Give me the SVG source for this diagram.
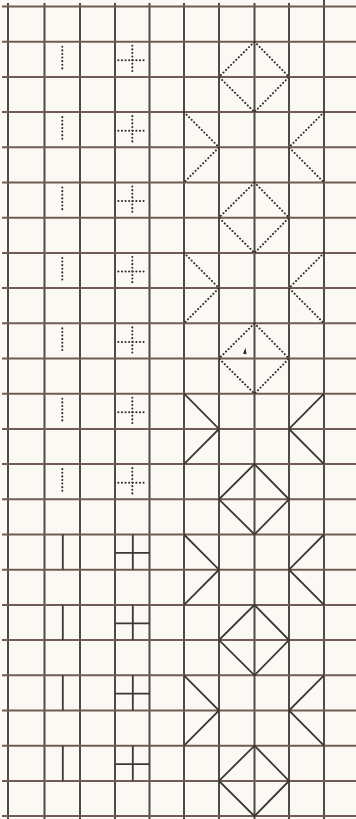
<svg xmlns="http://www.w3.org/2000/svg" width="356" height="819" viewBox="0 0 356 819">
<style>
.bg{fill:#fbf9f4}
.v{stroke:#4e4b49;stroke-width:2;fill:none}
.h{stroke:#6f5d53;stroke-width:2;fill:none}
.dot{stroke:#2f2d2b;stroke-width:2;stroke-linecap:round;stroke-dasharray:0.1 3.5;fill:none}
.sol{stroke:#3a3836;stroke-width:1.8;fill:none;stroke-linejoin:miter}
</style>
<rect class="bg" x="0" y="0" width="356" height="819"/>
<g id="grid">
<g class="v">
<line x1="8" y1="3" x2="8" y2="819"/>
<line x1="44.5" y1="3" x2="44.5" y2="819"/>
<line x1="80" y1="3" x2="80" y2="819"/>
<line x1="115" y1="3" x2="115" y2="819"/>
<line x1="149.5" y1="3" x2="149.5" y2="819"/>
<line x1="184" y1="3" x2="184" y2="819"/>
<line x1="219" y1="3" x2="219" y2="819"/>
<line x1="254.5" y1="3" x2="254.5" y2="819"/>
<line x1="289" y1="3" x2="289" y2="819"/>
<line x1="324" y1="0" x2="324" y2="819"/>
</g>
<g class="h">
<line x1="2" y1="6.5" x2="356" y2="6.5"/>
<line x1="2" y1="41.7" x2="356" y2="41.7"/>
<line x1="2" y1="76.9" x2="356" y2="76.9"/>
<line x1="2" y1="112.1" x2="356" y2="112.1"/>
<line x1="2" y1="147.3" x2="356" y2="147.3"/>
<line x1="2" y1="182.5" x2="356" y2="182.5"/>
<line x1="2" y1="217.7" x2="356" y2="217.7"/>
<line x1="2" y1="252.9" x2="356" y2="252.9"/>
<line x1="2" y1="288.1" x2="356" y2="288.1"/>
<line x1="2" y1="323.3" x2="356" y2="323.3"/>
<line x1="2" y1="358.5" x2="356" y2="358.5"/>
<line x1="2" y1="393.7" x2="356" y2="393.7"/>
<line x1="2" y1="428.9" x2="356" y2="428.9"/>
<line x1="2" y1="464.1" x2="356" y2="464.1"/>
<line x1="2" y1="499.3" x2="356" y2="499.3"/>
<line x1="2" y1="534.5" x2="356" y2="534.5"/>
<line x1="2" y1="569.7" x2="356" y2="569.7"/>
<line x1="2" y1="604.9" x2="356" y2="604.9"/>
<line x1="2" y1="640.1" x2="356" y2="640.1"/>
<line x1="2" y1="675.3" x2="356" y2="675.3"/>
<line x1="2" y1="710.5" x2="356" y2="710.5"/>
<line x1="2" y1="745.7" x2="356" y2="745.7"/>
<line x1="2" y1="780.9" x2="356" y2="780.9"/>
<line x1="2" y1="816.1" x2="356" y2="816.1"/>
</g>
</g>
<g id="bars">
<g id="bar1" transform="translate(62.3,41.7)"><line class="dot" x1="0" y1="5" x2="0" y2="30"/></g>
<g id="bar3" transform="translate(62.3,112.1)"><line class="dot" x1="0" y1="5" x2="0" y2="30"/></g>
<g id="bar5" transform="translate(62.3,182.5)"><line class="dot" x1="0" y1="5" x2="0" y2="30"/></g>
<g id="bar7" transform="translate(62.3,252.9)"><line class="dot" x1="0" y1="5" x2="0" y2="30"/></g>
<g id="bar9" transform="translate(62.3,323.3)"><line class="dot" x1="0" y1="5" x2="0" y2="30"/></g>
<g id="bar11" transform="translate(62.3,393.7)"><line class="dot" x1="0" y1="5" x2="0" y2="30"/></g>
<g id="bar13" transform="translate(62.3,464.1)"><line class="dot" x1="0" y1="5" x2="0" y2="30"/></g>
<g id="bar15" transform="translate(62.8,534.5)"><line class="sol" x1="0" y1="0" x2="0" y2="35.2"/></g>
<g id="bar17" transform="translate(62.8,604.9)"><line class="sol" x1="0" y1="0" x2="0" y2="35.2"/></g>
<g id="bar19" transform="translate(62.8,675.3)"><line class="sol" x1="0" y1="0" x2="0" y2="35.2"/></g>
<g id="bar21" transform="translate(62.8,745.7)"><line class="sol" x1="0" y1="0" x2="0" y2="35.2"/></g>
</g>
<g id="crosses">
<g id="cross1" transform="translate(132.3,41.7)"><line class="dot" x1="0" y1="4" x2="0" y2="31"/><line class="dot" x1="-14" y1="18.6" x2="14" y2="18.6"/></g>
<g id="cross3" transform="translate(132.3,112.1)"><line class="dot" x1="0" y1="4" x2="0" y2="31"/><line class="dot" x1="-14" y1="18.6" x2="14" y2="18.6"/></g>
<g id="cross5" transform="translate(132.3,182.5)"><line class="dot" x1="0" y1="4" x2="0" y2="31"/><line class="dot" x1="-14" y1="18.6" x2="14" y2="18.6"/></g>
<g id="cross7" transform="translate(132.3,252.9)"><line class="dot" x1="0" y1="4" x2="0" y2="31"/><line class="dot" x1="-14" y1="18.6" x2="14" y2="18.6"/></g>
<g id="cross9" transform="translate(132.3,323.3)"><line class="dot" x1="0" y1="4" x2="0" y2="31"/><line class="dot" x1="-14" y1="18.6" x2="14" y2="18.6"/></g>
<g id="cross11" transform="translate(132.3,393.7)"><line class="dot" x1="0" y1="4" x2="0" y2="31"/><line class="dot" x1="-14" y1="18.6" x2="14" y2="18.6"/></g>
<g id="cross13" transform="translate(132.3,464.1)"><line class="dot" x1="0" y1="4" x2="0" y2="31"/><line class="dot" x1="-14" y1="18.6" x2="14" y2="18.6"/></g>
<g id="cross15" transform="translate(132.8,534.5)"><line class="sol" x1="0" y1="0" x2="0" y2="35.2"/><line class="sol" x1="-17.8" y1="18.4" x2="16.7" y2="18.4"/></g>
<g id="cross17" transform="translate(132.8,604.9)"><line class="sol" x1="0" y1="0" x2="0" y2="35.2"/><line class="sol" x1="-17.8" y1="18.4" x2="16.7" y2="18.4"/></g>
<g id="cross19" transform="translate(132.8,675.3)"><line class="sol" x1="0" y1="0" x2="0" y2="35.2"/><line class="sol" x1="-17.8" y1="18.4" x2="16.7" y2="18.4"/></g>
<g id="cross21" transform="translate(132.8,745.7)"><line class="sol" x1="0" y1="0" x2="0" y2="35.2"/><line class="sol" x1="-17.8" y1="18.4" x2="16.7" y2="18.4"/></g>
</g>
<g id="diamonds">
<g id="diamond1" transform="translate(254.5,41.7)"><polygon class="dot" points="0,0 34.5,35.2 0,70.4 -35.5,35.2"/></g>
<g id="diamond5" transform="translate(254.5,182.5)"><polygon class="dot" points="0,0 34.5,35.2 0,70.4 -35.5,35.2"/></g>
<g id="diamond9" transform="translate(254.5,323.3)"><polygon class="dot" points="0,0 34.5,35.2 0,70.4 -35.5,35.2"/><polygon points="-11.5,30.5 -9,24.5 -8,31" fill="#2a2826"/></g>
<g id="diamond13" transform="translate(254.5,464.1)"><polygon class="sol" points="0,0 34.5,35.2 0,70.4 -35.5,35.2"/></g>
<g id="diamond17" transform="translate(254.5,604.9)"><polygon class="sol" points="0,0 34.5,35.2 0,70.4 -35.5,35.2"/></g>
<g id="diamond21" transform="translate(254.5,745.7)"><polygon class="sol" points="0,0 34.5,35.2 0,70.4 -35.5,35.2"/></g>
</g>
<g id="chevrons">
<g id="chevron3" transform="translate(0,112.1)"><polyline class="dot" points="184,0 219,35.2 184,70.4"/><polyline class="dot" points="324,0 289,35.2 324,70.4"/></g>
<g id="chevron7" transform="translate(0,252.9)"><polyline class="dot" points="184,0 219,35.2 184,70.4"/><polyline class="dot" points="324,0 289,35.2 324,70.4"/></g>
<g id="chevron11" transform="translate(0,393.7)"><polyline class="sol" points="184,0 219,35.2 184,70.4"/><polyline class="sol" points="324,0 289,35.2 324,70.4"/></g>
<g id="chevron15" transform="translate(0,534.5)"><polyline class="sol" points="184,0 219,35.2 184,70.4"/><polyline class="sol" points="324,0 289,35.2 324,70.4"/></g>
<g id="chevron19" transform="translate(0,675.3)"><polyline class="sol" points="184,0 219,35.2 184,70.4"/><polyline class="sol" points="324,0 289,35.2 324,70.4"/></g>
</g>
</svg>
